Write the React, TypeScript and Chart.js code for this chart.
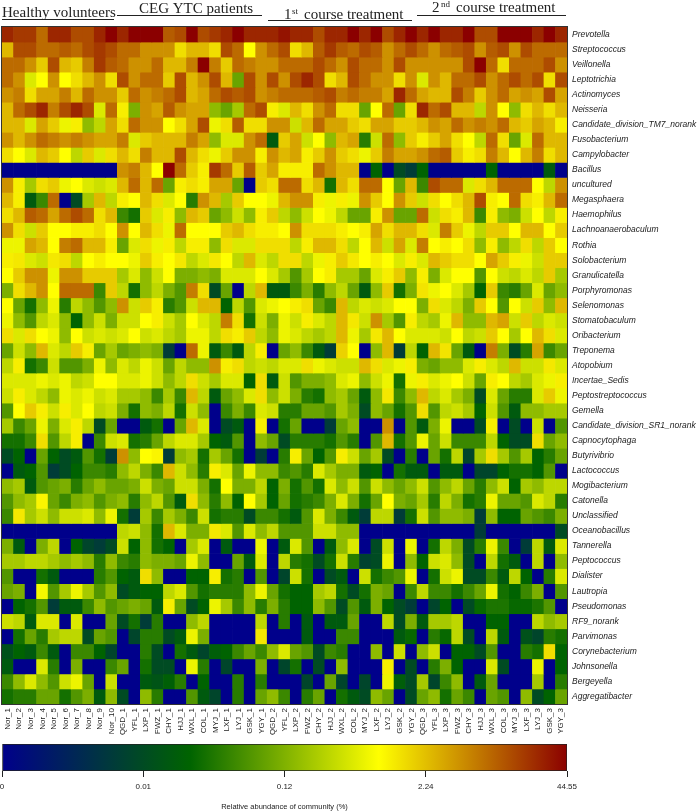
import React, { useEffect, useRef } from "react";
import { Chart, registerables } from "chart.js";

Chart.register(...registerables);

const samples = [
  "Nor_1","Nor_2","Nor_3","Nor_4","Nor_5","Nor_6","Nor_7","Nor_8","Nor_9","Nor_10",
  "QGD_1","YFL_1","LXP_1","FWZ_1","CHY_1","HJJ_1","WXL_1","COL_1","MYJ_1","LXF_1","LYJ_1","GSK_1","YGY_1",
  "QGD_2","YFL_2","LXP_2","FWZ_2","CHY_2","HJJ_2","WXL_2","COL_2","MYJ_2","LXF_2","LYJ_2","GSK_2","YGY_2",
  "QGD_3","YFL_3","LXP_3","FWZ_3","CHY_3","HJJ_3","WXL_3","COL_3","MYJ_3","LXF_3","LYJ_3","GSK_3","YGY_3",
];

const taxa = [
  "Prevotella","Streptococcus","Veillonella","Leptotrichia","Actinomyces","Neisseria",
  "Candidate_division_TM7_norank","Fusobacterium","Campylobacter","Bacillus","uncultured",
  "Megasphaera","Haemophilus","Lachnoanaerobaculum","Rothia","Solobacterium","Granulicatella",
  "Porphyromonas","Selenomonas","Stomatobaculum","Oribacterium","Treponema","Atopobium",
  "Incertae_Sedis","Peptostreptococcus","Gemella","Candidate_division_SR1_norank","Capnocytophaga",
  "Butyrivibrio","Lactococcus","Mogibacterium","Catonella","Unclassified","Oceanobacillus",
  "Tannerella","Peptococcus","Dialister","Lautropia","Pseudomonas","RF9_norank","Parvimonas",
  "Corynebacterium","Johnsonella","Bergeyella","Aggregatibacter",
];

const levels: number[][] = [
  [15,14.5,14.5,13,15,15,14,14,15,16,15,16,16,16,13.5,14,16,14,14.5,15,16,15,15,15,15.5, 15,15,14,15,15,16,15,16,14,15,16,15,16,15,15,16,14,14,16,16,16,15,16,15],
  [11,14,14,13,13,13.5,13,14,14.5,14,13,13,12,12,12,10,11,11,10,14,13,9,12,13,14, 10,11,13.5,14.5,13.5,13,14,13.5,12,13,14,13,12,13,13.5,14,12,13.5,14,12,14,13,13,13],
  [13,13,12,10.5,14,11,10.5,12.5,14.5,13.5,13,12,12,13,11,11,12.5,16,12.5,10.5,13,12.5,12,12,13, 13,13,14,13,12,14,13,13,12,14,12,12,12,12,12,14,16,13,10,13,13,13,14,12],
  [13,12,8,9,12,9,10,11,12,10,14,12,13,13,10.5,14,11,12,14,11,5,14,12,14,12, 14,15,14,10,11,14,13,12,12,10,12,8,12,11,13,13,14,12,13,14,13,14,10,14],
  [12,12.5,10,11.5,11.5,12.5,11,13,12,12,10.5,13,12,12.5,13,14,11,11.5,13,14,13.5,14,12,12.5,13, 13,13,13.5,14,12.5,13,12.5,12.5,11.5,15,13,11.5,11,11,14,12.5,10.5,12,13,11.5,12,11.5,14,11.5],
  [11,13,14,15,12.5,14,15,14,8,13,9.5,5.5,12,11.5,13.5,12,11.5,11.5,6,5,6.5,13,14,9.5,8, 11,10,12,13,10,10,5,9,13,5,10,15,13,14,11,11,7,12,9,6,10,11,10,11],
  [11,11,8,11.5,10.5,8.5,9.5,6,7,11.5,10,13,12,12,9,10,11.5,14,8.5,10,13.5,10,10,12,12, 7.5,11,13,11.5,11.5,10.5,10,11.5,11.5,10.5,10.5,11,12,11.5,13,12,12.5,12,13,11,10.5,11.5,11,9.5],
  [12,11,12,13,12.5,12,12.5,12,11.5,11.5,12.5,8,10.5,11,11,11,12.5,11.5,6,8,8,12,13,2,10.5, 11.5,7.5,9,6,11,11.5,3.5,7.5,13,6,10.5,9.5,10.5,11.5,10,9,7,13,10,5,8,13,11,11],
  [10,9,8,11,10.5,9,7,10.5,8,10,11,10,12.5,11,11,14,11,10,8.5,10.5,12,12,9.5,12,11, 11.5,9.5,10.5,12,10.5,10,8.5,10.5,12.5,11.5,11.5,12,13,13.5,10.5,9.5,10,12.5,11,9,11,12.5,10,11],
  [0,0,0,0,0,0,0,0,0,0,12,12.5,11,9,16,13,10.5,9.5,14.5,13,10.5,13.5,10.5,11.5,9.5, 9.5,9.5,13,12,11,11,0,2.5,0,1.5,1,2.5,0,0,0,0,0,2.5,0,0,0,0,2,0],
  [12,9.5,6.5,10,10.5,8.5,9,8,7.5,8,11,13,11,13,5,9.5,10,9.5,11.5,11.5,5,0,10.5,10,13, 13,10,11,3,11,10,13,13,9,5,11,4,14,13,13,8,10,11,13,13,13,9,7,12],
  [11,9.5,2,4,13,0,1.5,6.5,11,7,9.5,9,11,10,8,9,3.5,12,11,6.5,10.5,9,9,8.5,11, 12,12,9.5,8.5,9.5,8.5,12,10.5,9,12,10.5,7.5,10,9,10,11,14,9.5,9,13,10,9.5,11,13],
  [10,11,13.5,13,11.5,13,14,13,10,11,4,3,10.5,8,9.5,6,11,10.5,5,6,7.5,6,9.5,10.5,7, 6,7.5,9,8.5,7,5,5,9.5,12,5,5,13,7.5,10,9.5,11,4,9.5,6,5.5,7.5,9,7,9.5],
  [12,10,7.5,10.5,9,9,9.5,9.5,10,9,12,9,11,10,8.5,13,9,9,9,10.5,11,10,9.5,9.5,9, 12,10,10,10,9.5,9,9.5,11.5,10,11,11,10,8,12.5,10.5,8.5,7,10.5,10.5,9,11,11,9,10.5],
  [8.5,8.5,11.5,11,9,12.5,13,11,11,9.5,5,8,10,8.5,9.5,7,9.5,9.5,6,10,8,8,10,10,10, 7,9.5,11,11,10,7,9,11,7.5,11.5,8,12.5,9,9.5,9,10,6,9.5,6,7,10,7,10.5,9],
  [9.5,9.7,8,7.5,9.7,10,7,9,9.5,9,9,8.5,10.5,9.5,9,9.7,7,8,9.7,9,7,11,8,7,10, 10,7,8.5,9.5,10.5,9.7,9,9.5,9,8,9.5,8,11,10.5,10,10,9,11.5,10.5,9.5,8.5,7.5,10.5,10.5],
  [9,10.5,12,12,8.5,12,12,10.5,10.5,10.5,6.5,8,6,7.5,9,5.5,5.5,6,5.5,8,8,8,9,8,6.5, 4.5,6.5,9,9.5,6.5,6.5,5,8,9.5,10.5,6,9.5,5.5,8,9,9,4.5,9,7.5,7,8,7,10.5,6.5],
  [5.5,10,11,12,9,13,13,13,4,10.5,7,3,6,7,5.5,4.5,12.5,10,1.5,5,0,7,11,2,2, 4,5.5,3.5,6,7,5,2,6,10.5,3,5.5,9.8,8.5,9,8,6.5,2.5,10.5,4,3.5,5,8,5,6],
  [9,5,3,6,8.5,3.5,7,6,4.5,6,12,7.5,10.5,9.5,3.5,4.5,7.5,11,11,2.5,7,4.5,8,8.5,9, 9.5,10,5,4,11,7,8,7.5,8,9,9,5.5,10,8,7,5.5,10.5,9,4.5,9,7.5,10.5,6,11],
  [8.5,6,4.5,7,8,6,2.5,6,7.5,5.5,7.5,7.5,9,9.5,7.5,6.5,9,8,7,12.5,10,3,7.5,5.5,8.5, 7.5,9.5,8,7,11,9.7,7.5,12,6.5,4.5,9.5,7,6.5,8.5,11,6,6,11,11.5,7.5,10.5,7,8,7.5],
  [10,8,10,9,8.5,6,9,7.5,8,7.5,8,9,7.5,8,7,6.5,8.5,8.5,7,10,9.5,10.5,7,6,8.5, 8,7,6.5,7,11,8.5,6.5,9.7,11,9,8,8,8,7.5,9,7,7.5,10.5,9,6.5,9,11,10,8],
  [5,7.5,6,11,8,7,10.5,9.5,5,6.5,5,5.5,6,5.5,1,0,13,8.5,2,4,2,7,9.5,0,5, 6,4,2,1,10.3,9,0,6,11,1,7,2.5,11,9.8,5,2,0,12.5,5.5,1.5,3.5,11.5,4,5],
  [7,9.5,3,4,7.5,4.5,4.5,5.5,8.5,6,8,7,8.5,7.5,5,7,6,6,12,9.5,10,7,7.5,7,8, 8,10,8.5,8,7.5,7.5,11,10,8,8.5,9.5,5.5,5,6,6,8,9.5,8,7,11,7.5,7.5,9.7,8],
  [8,8,8,8.5,8,8.5,7,7.5,9,9,8,8,8.5,7.5,6,7,10,7.5,6.5,8,8,2.5,10,2,7.5, 4.5,5.5,5.5,6,8,8.5,6,7.5,8.5,3,8.5,9.5,8,8.5,9,7.5,5,9.5,9,7,6.5,8,8.5,9.5],
  [7.5,9.5,8,7,6,8.5,8,8.5,7.5,8,6.5,6.5,6,4,6.5,4,11,7,2,5,6,8,10,6,7.5, 5.5,3.5,3,6,6.5,5,2,6,9.7,4,6,11,7,8,6.5,5.5,1.5,8,5,3.5,3.5,8,10.5,8.5],
  [4.5,9,10.5,9.5,7.5,9.5,8,9,7,7.5,5.5,3,6,5.5,7,3,7.5,6,0,4,5.5,4,8,7.5,3.5, 3.5,5,5,4.5,6.5,5.5,1.5,6,5,3,4.5,10,4.5,7,7.5,6.5,2.5,7.5,4.5,2,6,6,6.5,6.5],
  [6.5,4,5,8.5,5.5,8,9.5,7,1.5,5,0,0,2,3,0,5,11,8,0,1.5,2,0,9.5,0,3, 5,0,0,1,5,6,0,0,12,0,4.5,2,5.5,8.5,0,0,1.5,9.5,0,1.5,0,7.5,0,4.5],
  [3,3,4,10,4.5,7,9.5,0,4,7.5,8,3,3.5,5,7,8,8,6.5,2.5,2,4.5,0,6,5,1.5, 3.5,3.5,3.5,3,4.5,3.5,0,4.5,11,3,4.5,8.5,5,7.5,4,4,4,7,2.5,1.5,1.5,10,5,6],
  [1.5,2.5,0,5,2.5,1.5,2,4.5,3,1,12,6,9,9.3,1,6,6.5,3,6.5,5,3,0,1,0,3.5, 9.5,5,2.5,4.5,9.5,7.5,5,6.5,1.5,0,3.5,0,5,3,7,1.3,6.5,10,6.5,4.5,6.5,2.5,3.5,5],
  [0,2,2.5,4.5,1,1.5,2.5,4,4,3.5,6,7,5.5,4,11,7.5,6,3.5,9.5,8,5,8.5,6,6,4, 4.5,3.5,8,6.5,5.5,5.5,2,2.5,0,3,2,2,0,2,2,0,1.3,1.3,2.5,3,3,2.5,4.5,0],
  [6,6.5,2,4.5,5,5.5,3.5,5,6,5,5,5.5,7.5,5.5,5,7.5,7.5,5.5,3,9,5.5,5.5,7,2.5,5.5, 3,4.5,3,8,6,7.5,4.5,7.5,6,5,6,7.5,4.5,6,7,5,3.5,6,7.5,2.5,6.5,6,7,7],
  [4.5,6,6.5,9.3,5,4,5.5,6,4.5,5.5,6,3.5,6,7,4.5,2,10,6,3.5,6,2.5,9,6.5,2.5,5, 3,3.5,4,5.5,8,5.5,3,5,9,5.5,5,6.5,3.5,7,5.5,3,3.5,8.5,5,5,4.5,8,7,3.5],
  [4,9.7,6.5,7.5,6,7.5,7.5,8,6,8.5,3,1,6.5,4,6.5,5.5,4,7.5,3,3.5,3.5,1.5,4,4,3, 2,4.5,8,5.5,4,2,1,7,7,1,3,7.5,4.5,6,6,5.5,1,6,2.5,2.5,5,4.5,4,5.5],
  [0,0,0,0,0,0,0,0,0,0,7,7.5,6,3,11,8,5.5,5.5,9.7,8,4.5,8,6,7,4.5, 4.5,4.5,7.5,7.5,6,6,0,0,0,0,0,0,0,0,0,0,1,0,0,0,0,0,0,1.5],
  [5.5,2,0,5.5,7,0,2.5,1.3,1,1.5,7.5,2.5,6,3,2.5,0,6.5,8,0,2,0,0,8.5,0,2, 8,4.5,0,2,6,8,0,1.5,7.5,0,8.5,0,3,7,5.5,1.5,3.5,8.5,4,0,1,7,2,8],
  [6.5,6.5,7,7,6.5,6,6.5,6,3.5,6,4,3.5,6,5.5,5.5,5,8.5,6,0,0,5,2,8,0,7, 3.5,3,1.5,3,7.5,3.5,1.2,1.5,8.5,0,6,2.5,7.5,8,6,1.5,0,7,3,2,0,7,0,6],
  [4.5,0,0,3,2,0,0,0,3.5,4.5,2.5,2,10,6,0,0,2.5,2.5,9.5,3,3.5,0,4.5,0,1.3, 7.5,3,0,1.5,2,0,7.5,3,4,4.5,8.5,0,3,7.5,8.5,1.5,1.5,4,2,7,2.5,0,3.5,8],
  [5,5.5,0,8.7,4.5,6.5,8.5,6.5,4.5,6,1.5,2,2.5,2.5,7,8,4.5,3,3.5,3.5,3.5,6,8.5,5,3, 2.5,2.5,6.5,7,3,1.5,3,5.5,5,0,4,7,4,4,3,4,5,8.5,3,2.5,4,5.5,0,4.5],
  [0,2.5,3,4.5,1,2,2,4,6,4.5,5,5.5,5,2,9.5,5,1.5,2.5,8.5,6.5,4,6,3.5,5.5,3.5, 2.5,2.5,6,4.5,1.5,4.5,2,5.5,2.5,1.5,1,0,1.3,2.5,0,1.5,2.7,3.2,3.2,2.7,2.7,3.2,4.5,0],
  [7.5,7,2,8,8,0,8,0,0,5,1.5,3,1,3.5,0,0,6,7,0,0,0,0,7,0,3.5, 0,2,0,2,2,5,0,0,7,1.5,5.5,2,6.5,6.5,7,0,0,2.5,2.5,0,0,7,6,6.5],
  [0,3,5,3.5,6.5,7,7,1.5,5,4.5,0,1.3,3.5,3.5,1.5,2,8.5,5.5,0,0,0,0,9.7,0,0, 0,2,0,0,4,4,0,0,0,2,2.7,0,3.5,2.7,7,1.5,0,7,2,0,1.7,1.3,3.5,3],
  [1.7,2.5,2,4,2,0,4,4,2.5,1.3,0,0,3.5,1.5,0,3,2,1.3,2.2,2.5,4,5,4,6,8, 5,4.5,1.5,4,3.5,0,0,6,0,7.5,0,6,7.5,0,2.5,2.5,1.5,4.5,0,0,3.5,3,10,2.5],
  [2,0,0,8,3.5,0,5.5,0,0,4,5,0,3,1.5,1.5,0,8.5,3.5,0,1.3,0,0,5.5,0,1.3, 3,0,1.5,0,6,0,0,0,9.5,0,1.5,0,3.5,5.5,2.5,0,0,8,1.5,0,0,8.5,0,2.5],
  [4,6,8,6,4.5,7.5,8.5,5,0,7.5,0,0,2,1.8,2.3,3.5,0,2.5,0,0,3.5,0,3.5,0,0, 0,1.3,0,5,1.3,0,1.3,0,8.5,2.2,1.5,6.5,1.3,4,6,0,2,5,0,0,0,6.5,0,3.5],
  [3,3.5,3.5,5,5,3,4.5,5.5,2,6,1.5,0,6,3.5,0,0,4.5,2,1.3,0,3.5,0,5,6,4, 0,3.5,5,0,3,2,1.5,6,5,0,1.5,5,6,3,5,4,0,5,4.5,0,6,1.5,2.5,5],
];

// Position on the colour bar of each level step.
const levelStops = [0,0.2,0.3,0.36,0.41,0.47,0.52,0.58,0.62,0.667,0.71,0.76,0.81,0.86,0.9,0.95,1];
const colorStops: [number, number[]][] = [
  [0, [0, 0, 139]],
  [1 / 3, [0, 100, 0]],
  [2 / 3, [255, 255, 0]],
  [1, [139, 0, 0]],
];
const colorBarTickLabels = ["0", "0.01", "0.12", "2.24", "44.55"];
const colorBarTitle = "Relative abundance of community (%)";

const headerLabels = ["Healthy volunteers", "CEG YTC patients", "course treatment", "course treatment"];

function levelColor(level: number): string {
  const lo = Math.min(Math.floor(level), levelStops.length - 2);
  const t = levelStops[lo] + (levelStops[lo + 1] - levelStops[lo]) * (level - lo);
  let i = 0;
  while (i < colorStops.length - 2 && t > colorStops[i + 1][0]) i++;
  const [t0, c0] = colorStops[i];
  const [t1, c1] = colorStops[i + 1];
  const f = (t - t0) / (t1 - t0);
  const ch = c0.map((v, k) => Math.round(v + (c1[k] - v) * f));
  return `rgb(${ch[0]},${ch[1]},${ch[2]})`;
}

const frameAndHeader = {
  id: "frameAndHeader",
  afterDraw(chart: any) {
    const { ctx, chartArea: a } = chart;
    ctx.save();
    ctx.strokeStyle = "#333";
    ctx.lineWidth = 1;
    ctx.strokeRect(a.left - 0.5, a.top - 0.5, a.right - a.left + 1, a.bottom - a.top + 1);

    ctx.fillStyle = "#222";
    ctx.textBaseline = "alphabetic";
    ctx.textAlign = "left";
    const serif = '"Liberation Serif", serif';
    ctx.font = `15px ${serif}`;
    ctx.fillText(headerLabels[0], 2, 17);
    ctx.fillText(headerLabels[1], 139, 13);
    ctx.fillText("1", 284, 19);
    ctx.fillText(headerLabels[2], 304, 19);
    ctx.fillText("2", 432, 12);
    ctx.fillText(headerLabels[3], 456, 12);
    ctx.font = `9px ${serif}`;
    ctx.fillText("st", 292, 14);
    ctx.fillText("nd", 441, 7);

    const rules = [
      [2, 114, 19.5],
      [117, 262, 15.5],
      [268, 412, 20.5],
      [417, 566, 15.5],
    ];
    ctx.strokeStyle = "#222";
    for (const [x0, x1, y] of rules) {
      ctx.beginPath();
      ctx.moveTo(x0, y);
      ctx.lineTo(x1, y);
      ctx.stroke();
    }
    ctx.restore();
  },
};

export default function App() {
  const mapRef = useRef<HTMLCanvasElement>(null);
  const barRef = useRef<HTMLCanvasElement>(null);

  useEffect(() => {
    const heat = new Chart(mapRef.current!, {
      type: "bar",
      plugins: [frameAndHeader],
      data: {
        labels: samples,
        datasets: taxa.map((name, r) => ({
          label: name,
          data: samples.map(() => 1),
          backgroundColor: levels[r].map(levelColor),
          borderWidth: 0,
          barPercentage: 1,
          categoryPercentage: 1,
        })),
      },
      options: {
        responsive: false,
        animation: false,
        devicePixelRatio: 1,
        layout: { padding: { left: 2, top: 27, right: 0, bottom: 0 } },
        plugins: { legend: { display: false }, tooltip: { enabled: false } },
        scales: {
          x: {
            stacked: true,
            afterFit: (s: any) => { s.height = 36; },
            grid: { display: false, drawTicks: false },
            border: { display: false },
            ticks: {
              autoSkip: false,
              minRotation: 90,
              maxRotation: 90,
              padding: 4,
              color: "#222",
              font: { family: '"Liberation Sans", Arial, sans-serif', size: 8 },
            },
          },
          y: {
            stacked: true,
            position: "right",
            reverse: true,
            min: 0,
            max: taxa.length,
            afterFit: (s: any) => { s.width = 130; },
            afterBuildTicks: (s: any) => { s.ticks = taxa.map((_, i) => ({ value: i + 0.5 })); },
            grid: { display: false, drawTicks: false },
            border: { display: false },
            ticks: {
              autoSkip: false,
              padding: 5,
              color: "#222",
              callback: (v: any) => taxa[Math.floor(Number(v))],
              font: { family: '"Liberation Sans", Arial, sans-serif', size: 8.5, style: "italic" },
            },
          },
        },
      },
    } as any);

    const scaleBar = new Chart(barRef.current!, {
      type: "bar",
      data: {
        labels: [colorBarTitle],
        datasets: [{
          data: [[0, colorBarTickLabels.length - 1]] as any,
          barPercentage: 1,
          categoryPercentage: 1,
          borderWidth: 1,
          borderColor: "#222",
          borderSkipped: false,
          backgroundColor: (c: any) => {
            const a = c.chart.chartArea;
            if (!a) return "#000";
            const g = c.chart.ctx.createLinearGradient(a.left, 0, a.right, 0);
            colorStops.forEach(([t, col]) => g.addColorStop(t, `rgb(${col[0]},${col[1]},${col[2]})`));
            return g;
          },
        }],
      },
      options: {
        indexAxis: "y",
        responsive: false,
        animation: false,
        devicePixelRatio: 1,
        layout: { padding: { left: 2, top: 4, right: 130, bottom: 0 } },
        plugins: { legend: { display: false }, tooltip: { enabled: false } },
        scales: {
          y: { display: false },
          x: {
            type: "linear",
            min: 0,
            max: colorBarTickLabels.length - 1,
            afterFit: (s: any) => {
              s.height = 41;
              s.paddingLeft = 0;
              s.paddingRight = 0;
            },
            grid: { drawOnChartArea: false, drawTicks: true, tickLength: 6, color: "#222" },
            border: { display: false },
            ticks: {
              stepSize: 1,
              autoSkip: false,
              maxRotation: 0,
              padding: 5,
              color: "#222",
              align: "center",
              callback: (v: any) => colorBarTickLabels[Number(v)],
              font: { family: '"Liberation Sans", Arial, sans-serif', size: 8 },
            },
            title: {
              display: true,
              text: colorBarTitle,
              color: "#222",
              padding: { top: 0, bottom: 1 },
              font: { family: '"Liberation Sans", Arial, sans-serif', size: 7.5 },
            },
          },
        },
      },
    } as any);

    return () => {
      heat.destroy();
      scaleBar.destroy();
    };
  }, []);

  return (
    <div style={{ position: "absolute", left: 0, top: 0, width: 697, height: 812, background: "#fff" }}>
      <canvas ref={mapRef} width={697} height={740} style={{ display: "block" }} />
      <canvas ref={barRef} width={697} height={72} style={{ display: "block" }} />
    </div>
  );
}
